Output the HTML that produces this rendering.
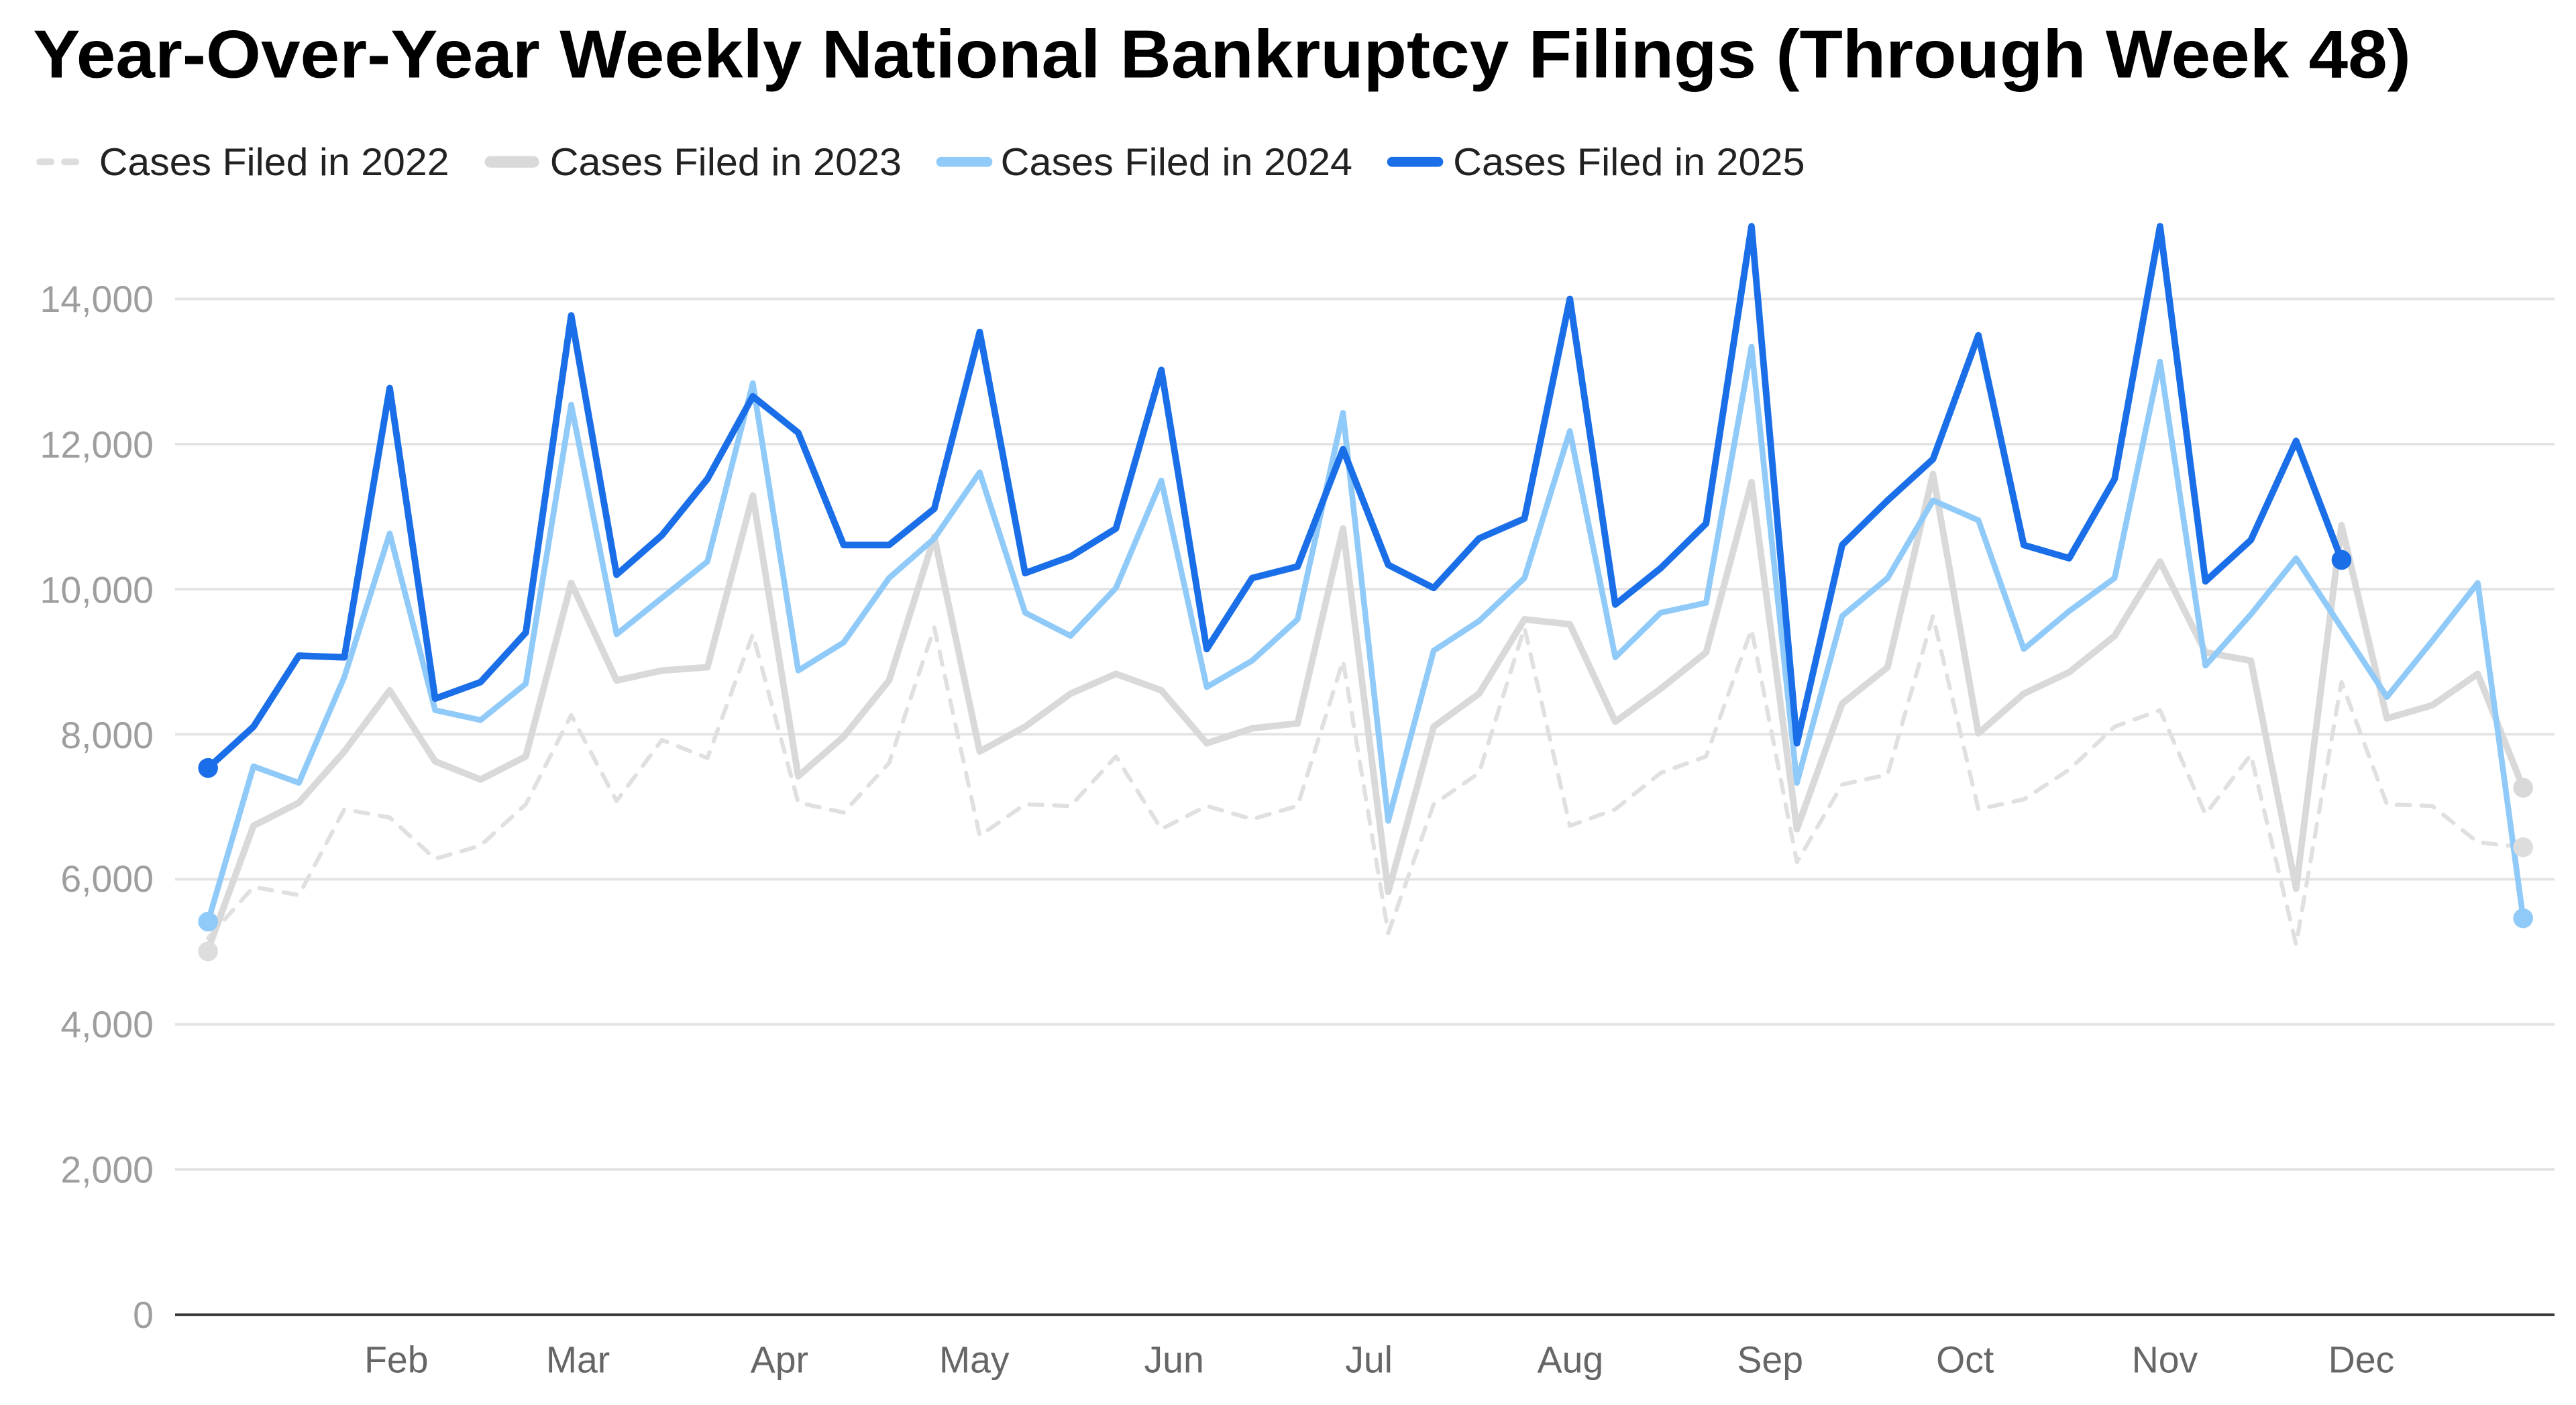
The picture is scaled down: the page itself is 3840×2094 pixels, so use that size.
<!DOCTYPE html>
<html><head><meta charset="utf-8"><style>html,body{margin:0;padding:0;background:#fff}svg{display:block}</style></head>
<body>
<svg xmlns="http://www.w3.org/2000/svg" width="3840" height="2094" viewBox="0 0 1560 850.7" font-family="Liberation Sans, sans-serif">
<rect width="1560" height="851" fill="#fff"/>
<text x="20" y="47" font-size="41" font-weight="bold" fill="#000" textLength="1440" lengthAdjust="spacingAndGlyphs">Year-Over-Year Weekly National Bankruptcy Filings (Through Week 48)</text>
<g font-size="23.5" fill="#222">
<line x1="24" y1="98" x2="50" y2="98" stroke="#ddd" stroke-width="4" stroke-dasharray="7,8" stroke-linecap="round"/>
<text x="60" y="106" textLength="212" lengthAdjust="spacingAndGlyphs">Cases Filed in 2022</text>
<line x1="297" y1="98" x2="323" y2="98" stroke="#d9d9d9" stroke-width="7" stroke-linecap="round"/>
<text x="333" y="106" textLength="213" lengthAdjust="spacingAndGlyphs">Cases Filed in 2023</text>
<line x1="570" y1="98" x2="598" y2="98" stroke="#90caf9" stroke-width="6" stroke-linecap="round"/>
<text x="606" y="106" textLength="213" lengthAdjust="spacingAndGlyphs">Cases Filed in 2024</text>
<line x1="843" y1="98" x2="871" y2="98" stroke="#1a6fe8" stroke-width="6" stroke-linecap="round"/>
<text x="880" y="106" textLength="213" lengthAdjust="spacingAndGlyphs">Cases Filed in 2025</text>
</g>
<g stroke="#e3e3e3" stroke-width="1.5">
<line x1="106" y1="708.1" x2="1547" y2="708.1"/><line x1="106" y1="620.3" x2="1547" y2="620.3"/>
<line x1="106" y1="532.4" x2="1547" y2="532.4"/><line x1="106" y1="444.6" x2="1547" y2="444.6"/>
<line x1="106" y1="356.7" x2="1547" y2="356.7"/><line x1="106" y1="268.9" x2="1547" y2="268.9"/>
<line x1="106" y1="181" x2="1547" y2="181"/>
</g>
<line x1="106" y1="796" x2="1547" y2="796" stroke="#333" stroke-width="1.5"/>
<g font-size="22.5" fill="#9e9e9e" text-anchor="end">
<text x="93" y="804">0</text><text x="93" y="716">2,000</text><text x="93" y="628">4,000</text>
<text x="93" y="540">6,000</text><text x="93" y="453">8,000</text><text x="93" y="365">10,000</text>
<text x="93" y="277">12,000</text><text x="93" y="189">14,000</text>
</g>
<g font-size="22.5" fill="#666" text-anchor="middle">
<text x="240" y="831">Feb</text><text x="350" y="831">Mar</text><text x="472" y="831">Apr</text>
<text x="590" y="831">May</text><text x="711" y="831">Jun</text><text x="829" y="831">Jul</text>
<text x="951" y="831">Aug</text><text x="1072" y="831">Sep</text><text x="1190" y="831">Oct</text>
<text x="1311" y="831">Nov</text><text x="1430" y="831">Dec</text>
</g>
<g fill="none" stroke-linejoin="round" stroke-linecap="round">
<polyline stroke="#e0e0e0" stroke-width="2.5" stroke-dasharray="8,7" points="126,568 153.5,537 181,542 208.5,490 236,495 263.5,520 291,512 318.4,487 345.9,433 373.4,485 400.9,448 428.4,459 455.9,384 483.4,486 510.9,492 538.4,462 565.8,380 593.3,506 620.8,487 648.3,488 675.8,458 703.3,502 730.8,488 758.3,496 785.8,488 813.3,400 840.7,565 868.2,487 895.7,468 923.2,380 950.7,500 978.2,490 1005.7,468 1033.2,458 1060.7,381 1088.2,522 1115.6,475 1143.1,469 1170.6,373 1198.1,490 1225.6,484 1253.1,466 1280.6,440 1308.1,430 1335.6,493 1363.1,457 1390.5,572 1418,413 1445.5,487 1473,488 1500.5,510 1528,513"/>
<polyline stroke="#d9d9d9" stroke-width="4" points="126,575 153.5,500 181,486 208.5,455 236,418 263.5,461 291,472 318.4,458 345.9,353 373.4,412 400.9,406 428.4,404 455.9,300 483.4,470 510.9,446 538.4,412 565.8,325 593.3,455 620.8,440 648.3,420 675.8,408 703.3,418 730.8,450 758.3,441 785.8,438 813.3,320 840.7,540 868.2,440 895.7,420 923.2,375 950.7,378 978.2,437 1005.7,417 1033.2,395 1060.7,292 1088.2,502 1115.6,426 1143.1,404 1170.6,287 1198.1,444 1225.6,420 1253.1,407 1280.6,385 1308.1,340 1335.6,395 1363.1,400 1390.5,538 1418,318 1445.5,435 1473,427 1500.5,408 1528,477"/>
<polyline stroke="#90caf9" stroke-width="3.5" points="126,558 153.5,464 181,474 208.5,410 236,323 263.5,430 291,436 318.4,414 345.9,245 373.4,384 400.9,362 428.4,340 455.9,232 483.4,406 510.9,389 538.4,350 565.8,326 593.3,286 620.8,371 648.3,385 675.8,356 703.3,291 730.8,416 758.3,400 785.8,375 813.3,250 840.7,497 868.2,394 895.7,376 923.2,350 950.7,261 978.2,398 1005.7,371 1033.2,365 1060.7,210 1088.2,474 1115.6,373 1143.1,350 1170.6,303 1198.1,315 1225.6,393 1253.1,370 1280.6,350 1308.1,219 1335.6,403 1363.1,372 1390.5,338 1418,380 1445.5,422 1473,388 1500.5,353 1528,556"/>
<polyline stroke="#1a6fe8" stroke-width="4" points="126,465 153.5,440 181,397 208.5,398 236,235 263.5,423 291,413 318.4,383 345.9,191 373.4,348 400.9,324 428.4,290 455.9,240 483.4,262 510.9,330 538.4,330 565.8,308 593.3,201 620.8,347 648.3,337 675.8,320 703.3,224 730.8,393 758.3,350 785.8,343 813.3,272 840.7,342 868.2,356 895.7,326 923.2,314 950.7,181 978.2,366 1005.7,344 1033.2,317 1060.7,137 1088.2,450 1115.6,330 1143.1,303 1170.6,278 1198.1,203 1225.6,330 1253.1,338 1280.6,290 1308.1,137 1335.6,352 1363.1,327 1390.5,267 1418,339"/>
</g>
<circle cx="126" cy="576" r="6" fill="#ddd"/>
<circle cx="1528" cy="513" r="6" fill="#ddd"/>
<circle cx="1528" cy="477" r="6" fill="#d9d9d9"/>
<circle cx="126" cy="558" r="6" fill="#90caf9"/>
<circle cx="1528" cy="556" r="6" fill="#90caf9"/>
<circle cx="126" cy="465" r="6" fill="#1a6fe8"/>
<circle cx="1418" cy="339" r="6" fill="#1a6fe8"/>
</svg>
</body></html>
